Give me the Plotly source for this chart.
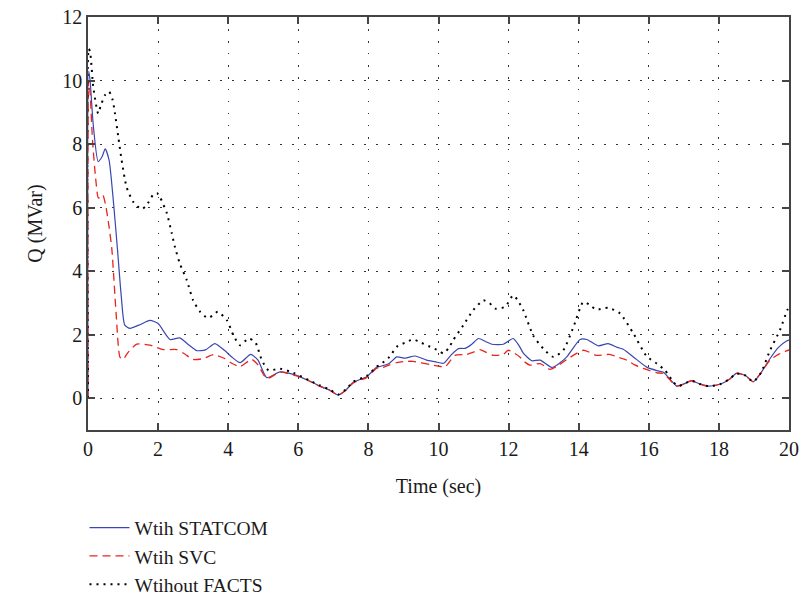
import plotly.graph_objects as go

# ---- data ----
t_statcom = [0, 0.02, 0.06, 0.15, 0.29, 0.4, 0.49, 0.6, 0.72, 0.84, 0.95, 1.05, 1.2, 1.45, 1.77, 2.0,
             2.34, 2.62, 2.85, 3.1, 3.35, 3.62, 3.9, 4.1, 4.34, 4.64, 4.85, 5.1, 5.48, 5.95, 6.3, 6.62,
             6.9, 7.14, 7.35, 7.57, 7.95, 8.24, 8.33, 8.6, 8.81, 9.05, 9.33, 9.66, 9.9, 10.14, 10.35,
             10.57, 10.76, 10.95, 11.14, 11.35, 11.52, 11.85, 12.13, 12.3, 12.42, 12.66, 12.9, 13.23,
             13.45, 13.66, 14.04, 14.23, 14.56, 14.84, 15.1, 15.27, 15.56, 15.94, 16.23, 16.42, 16.6,
             16.8, 17.0, 17.22, 17.45, 17.7, 18.03, 18.3, 18.5, 18.75, 18.98, 19.2, 19.46, 19.7, 19.93, 20.0]
q_statcom = [0, 10.3, 10.0, 8.6, 7.45, 7.6, 7.85, 7.5, 6.25, 4.7, 3.2, 2.3, 2.2, 2.3, 2.45, 2.35,
             1.85, 1.9, 1.7, 1.5, 1.52, 1.72, 1.5, 1.3, 1.12, 1.38, 1.2, 0.65, 0.83, 0.72, 0.55, 0.38,
             0.25, 0.1, 0.25, 0.5, 0.68, 0.98, 1.0, 1.1, 1.3, 1.26, 1.33, 1.2, 1.15, 1.1, 1.35,
             1.56, 1.57, 1.7, 1.88, 1.78, 1.7, 1.7, 1.88, 1.65, 1.42, 1.18, 1.2, 0.97,
             1.1, 1.3, 1.85, 1.85, 1.65, 1.72, 1.6, 1.54, 1.3, 0.98, 0.87, 0.82, 0.6,
             0.38, 0.45, 0.55, 0.45, 0.38, 0.44, 0.6, 0.78, 0.72, 0.52, 0.8, 1.25, 1.6, 1.8, 1.83]

t_svc = [0, 0.02, 0.06, 0.13, 0.22, 0.3, 0.42, 0.5, 0.6, 0.68, 0.8, 0.91, 0.99, 1.15, 1.39, 1.77,
         2.15, 2.53, 2.75, 3.0, 3.3, 3.58, 3.9, 4.1, 4.34, 4.67, 4.85, 5.1, 5.48, 5.95, 6.3, 6.62,
         6.9, 7.14, 7.35, 7.57, 7.95, 8.24, 8.33, 8.6, 8.81, 9.05, 9.28, 9.76, 9.95, 10.19, 10.35,
         10.47, 10.8, 11.0, 11.18, 11.35, 11.57, 11.85, 11.99, 12.32, 12.45, 12.61, 12.9, 13.18,
         13.4, 13.66, 14.13, 14.3, 14.5, 14.88, 15.1, 15.37, 15.6, 15.84, 16.23, 16.42, 16.6,
         16.8, 17.0, 17.22, 17.45, 17.7, 18.03, 18.3, 18.5, 18.75, 18.98, 19.2, 19.46, 19.7, 19.93, 20.0]
q_svc = [0, 10.0, 9.6, 8.1, 6.9, 6.3, 6.4, 6.1, 5.4, 4.7, 2.7, 1.3, 1.22, 1.45, 1.7, 1.67,
         1.53, 1.53, 1.4, 1.22, 1.25, 1.37, 1.25, 1.1, 1.0, 1.22, 1.05, 0.62, 0.82, 0.7, 0.55, 0.37,
         0.25, 0.1, 0.25, 0.48, 0.65, 0.95, 0.94, 1.05, 1.12, 1.16, 1.16, 1.06, 1.02, 0.99, 1.2,
         1.35, 1.38, 1.45, 1.53, 1.45, 1.35, 1.38, 1.51, 1.3, 1.15, 1.04, 1.09, 0.91,
         1.02, 1.22, 1.51, 1.45, 1.35, 1.38, 1.3, 1.2, 1.05, 0.94, 0.8, 0.78, 0.58,
         0.38, 0.45, 0.55, 0.45, 0.38, 0.44, 0.6, 0.78, 0.72, 0.52, 0.8, 1.2, 1.38, 1.49, 1.52]

t_none = [0, 0.02, 0.06, 0.15, 0.29, 0.36, 0.49, 0.6, 0.7, 0.77, 0.87, 0.96, 1.1, 1.29, 1.53, 1.67,
          1.86, 1.97, 2.05, 2.25, 2.39, 2.48, 2.62, 2.82, 3.0, 3.2, 3.42, 3.55, 3.7, 3.96, 4.15, 4.34,
          4.58, 4.77, 4.96, 5.15, 5.48, 5.86, 6.3, 6.62, 6.9, 7.14, 7.35, 7.57, 7.95, 8.24, 8.33, 8.6,
          8.81, 9.05, 9.28, 9.5, 9.76, 10.0, 10.14, 10.3, 10.42, 10.71, 10.99, 11.28, 11.45, 11.62,
          11.9, 12.13, 12.25, 12.42, 12.7, 12.99, 13.28, 13.56, 13.85, 14.13, 14.3, 14.5, 14.84,
          15.18, 15.56, 15.94, 16.23, 16.46, 16.71, 16.85, 17.0, 17.22, 17.45, 17.7, 18.03, 18.3,
          18.5, 18.75, 18.98, 19.2, 19.46, 19.74, 19.95, 20.0]
q_none = [0, 11.0, 10.9, 9.8, 8.96, 9.2, 9.55, 9.65, 9.4, 8.96, 8.18, 7.49, 6.65, 6.18, 5.95, 6.07,
          6.41, 6.45, 6.34, 5.82, 5.19, 4.76, 4.24, 3.71, 3.08, 2.72, 2.52, 2.6, 2.72, 2.46, 1.98, 1.67,
          1.88, 1.77, 1.2, 0.88, 0.93, 0.8, 0.57, 0.4, 0.27, 0.12, 0.27, 0.52, 0.7, 1.0, 1.05, 1.3,
          1.62, 1.75, 1.85, 1.75, 1.62, 1.5, 1.41, 1.6, 1.83, 2.3, 2.77, 3.08, 3.0, 2.82,
          2.88, 3.24, 3.1, 2.77, 1.98, 1.56, 1.3, 1.51, 2.24, 3.03, 2.95, 2.79, 2.85,
          2.67, 2.04, 1.32, 1.09, 0.88, 0.5, 0.38, 0.45, 0.55, 0.45, 0.38, 0.44, 0.6,
          0.78, 0.72, 0.52, 0.8, 1.51, 2.14, 2.77, 2.85]

names = ["Wtih STATCOM", "Wtih SVC", "Wtihout FACTS"]

FONT = "Liberation Serif"
TXT = "#1a1a1a"

fig = go.Figure()
fig.add_trace(go.Scatter(x=t_statcom, y=q_statcom, mode="lines", name=names[0],
                         line=dict(color="#3a47b0", width=1.2, shape="spline", smoothing=0.6)))
fig.add_trace(go.Scatter(x=t_svc, y=q_svc, mode="lines", name=names[1],
                         line=dict(color="#e8241c", width=1.3, dash="8px,5px", shape="spline", smoothing=0.6)))
fig.add_trace(go.Scatter(x=t_none, y=q_none, mode="lines", name=names[2],
                         line=dict(color="black", width=2, dash="2px,5px", shape="spline", smoothing=0.6)))

axis_common = dict(
    showline=True, linecolor="#444", linewidth=1.5, mirror="allticks",
    ticks="inside", ticklen=7, tickcolor="#444", tickwidth=1.5,
    showgrid=True, gridcolor="#333", gridwidth=1.2, griddash="1.5px,10.5px",
    zeroline=False, automargin=False,
    tickfont=dict(family=FONT, size=20, color=TXT),
)

fig.update_xaxes(range=[0, 20], dtick=2, tick0=0,
                 title=dict(text="Time (sec)", font=dict(family=FONT, size=20, color=TXT), standoff=20),
                 **axis_common)
fig.update_yaxes(range=[-1, 12], dtick=2, tick0=0,
                 title=dict(text="Q (MVar)", font=dict(family=FONT, size=20, color=TXT), standoff=14),
                 **axis_common)

fig.update_layout(
    width=801, height=597,
    margin=dict(l=88, r=12, t=17, b=167, autoexpand=False),
    paper_bgcolor="white", plot_bgcolor="white",
    font=dict(family=FONT, size=20, color=TXT),
    legend=dict(x=-0.005, y=0.1484, xanchor="left", yanchor="top", yref="container",
                font=dict(family=FONT, size=19.5, color=TXT),
                bgcolor="rgba(0,0,0,0)", tracegroupgap=0, itemwidth=40),
    showlegend=True,
)

fig.write_html("out.html")
